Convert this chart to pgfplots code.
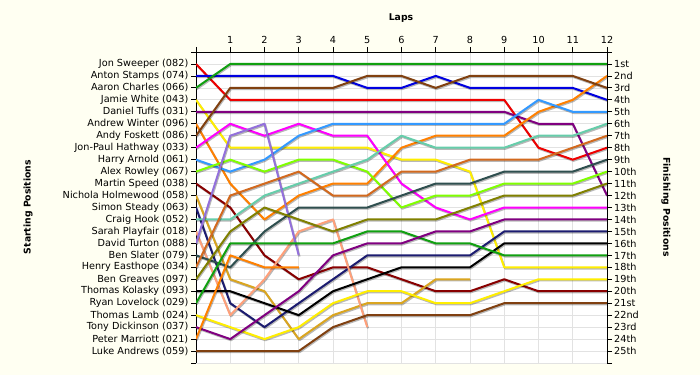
\documentclass[border=0pt]{standalone}
\usepackage{pgfplots}
\pgfplotsset{compat=1.18}
\usepackage{fontspec}
\setmainfont{DejaVu Sans}
\newcommand\lbl{\fontsize{9.7bp}{11bp}\selectfont}
\newcommand\ttl{\fontsize{9.3bp}{11bp}\selectfont}
\definecolor{bgc}{HTML}{FFFFF2}
\definecolor{gridc}{HTML}{E2E2E2}
\definecolor{cRed}{HTML}{EE0000}
\definecolor{cBlue}{HTML}{0000E0}
\definecolor{cGreen}{HTML}{10A010}
\definecolor{cYellow}{HTML}{FFEE00}
\definecolor{cPurple}{HTML}{800080}
\definecolor{cOrange}{HTML}{FF8000}
\definecolor{cBrown}{HTML}{804010}
\definecolor{cMagenta}{HTML}{FF00FF}
\definecolor{cDodger}{HTML}{3399FF}
\definecolor{cLime}{HTML}{80FF00}
\definecolor{cMaroon}{HTML}{880000}
\definecolor{cGold}{HTML}{DAA520}
\definecolor{cNavy}{HTML}{1C1C70}
\definecolor{cAqua}{HTML}{66CDAA}
\definecolor{cSalmon}{HTML}{FFA07A}
\definecolor{cMedPurple}{HTML}{9370DB}
\definecolor{cSlate}{HTML}{2F4F4F}
\definecolor{cChoc}{HTML}{D2691E}
\definecolor{cOlive}{HTML}{808000}
\newcommand{\racer}[2]{%
  \addplot[black, opacity=0.28, line width=2bp, xshift=0.8bp, yshift=-1.2bp] coordinates {#2};
  \addplot[#1, line width=2bp] coordinates {#2};}
\begin{document}
\begin{tikzpicture}
\fill[bgc] (0,0) rectangle (700bp,375bp);
\useasboundingbox (0,0) rectangle (700bp,375bp);
\begin{axis}[
  at={(196bp,12bp)}, anchor=south west,
  scale only axis, width=411bp, height=311bp,
  xmin=0, xmax=12, ymin=0, ymax=26, y dir=reverse,
  axis x line*=top, axis y line*=left,
  axis line style={black, line width=0.8bp, -},
  xtick={0,...,12}, xticklabels={,1,2,3,4,5,6,7,8,9,10,11,12},
  ytick={0,...,26},
  yticklabels={,Jon Sweeper (082),Anton Stamps (074),Aaron Charles (066),Jamie White (043),Daniel Tuffs (031),Andrew Winter (096),Andy Foskett (086),Jon-Paul Hathway (033),Harry Arnold (061),Alex Rowley (067),Martin Speed (038),Nichola Holmewood (058),Simon Steady (063),Craig Hook (052),Sarah Playfair (018),David Turton (088),Ben Slater (079),Henry Easthope (034),Ben Greaves (097),Thomas Kolasky (093),Ryan Lovelock (029),Thomas Lamb (024),Tony Dickinson (037),Peter Marriott (021),Luke Andrews (059),},
  tick align=outside, major tick length=5bp,
  tick style={black, line width=0.8bp},
  grid=major, grid style={gridc, line width=0.7bp},
  axis background/.style={fill=white},
  tick label style={font=\lbl},
  yticklabel style={inner xsep=2.5bp},
  /pgf/number format/assume math mode=true,
  line join=round,
]
\racer{cRed}{(0,1)(1,4)(2,4)(3,4)(4,4)(5,4)(6,4)(7,4)(8,4)(9,4)(10,8)(11,9)(12,8)}
\racer{cBlue}{(0,2)(1,2)(2,2)(3,2)(4,2)(5,3)(6,3)(7,2)(8,3)(9,3)(10,3)(11,3)(12,4)}
\racer{cGreen}{(0,3)(1,1)(2,1)(3,1)(4,1)(5,1)(6,1)(7,1)(8,1)(9,1)(10,1)(11,1)(12,1)}
\racer{cYellow}{(0,4)(1,8)(2,8)(3,8)(4,8)(5,8)(6,9)(7,9)(8,10)(9,18)(10,18)(11,18)(12,18)}
\racer{cPurple}{(0,5)(1,5)(2,5)(3,5)(4,5)(5,5)(6,5)(7,5)(8,5)(9,5)(10,6)(11,6)(12,12)}
\racer{cOrange}{(0,6)(1,11)(2,14)(3,12)(4,11)(5,11)(6,8)(7,7)(8,7)(9,7)(10,5)(11,4)(12,2)}
\racer{cBrown}{(0,7)(1,3)(2,3)(3,3)(4,3)(5,2)(6,2)(7,3)(8,2)(9,2)(10,2)(11,2)(12,3)}
\racer{cMagenta}{(0,8)(1,6)(2,7)(3,6)(4,7)(5,7)(6,11)(7,13)(8,14)(9,13)(10,13)(11,13)(12,13)}
\racer{cDodger}{(0,9)(1,10)(2,9)(3,7)(4,6)(5,6)(6,6)(7,6)(8,6)(9,6)(10,4)(11,5)(12,5)}
\racer{cLime}{(0,10)(1,9)(2,10)(3,9)(4,9)(5,10)(6,13)(7,12)(8,12)(9,11)(10,11)(11,11)(12,10)}
\racer{cMaroon}{(0,11)(1,13)(2,17)(3,19)(4,18)(5,18)(6,19)(7,20)(8,20)(9,19)(10,20)(11,20)(12,20)}
\racer{cGold}{(0,12)(1,19)(2,20)(3,24)(4,22)(5,21)(6,21)(7,19)(8,19)}
\racer{cNavy}{(0,13)(1,21)(2,23)(3,21)(4,19)(5,17)(6,17)(7,17)(8,17)(9,15)(10,15)(11,15)(12,15)}
\racer{cAqua}{(0,14)(1,14)(2,12)(3,11)(4,10)(5,9)(6,7)(7,8)(8,8)(9,8)(10,7)(11,7)(12,6)}
\racer{cSalmon}{(0,15)(1,22)(2,19)(3,15)(4,14)(5,23)}
\racer{cMedPurple}{(0,16)(1,7)(2,6)(3,17)}
\racer{cSlate}{(0,17)(1,18)(2,15)(3,13)(4,13)(5,13)(6,12)(7,11)(8,11)(9,10)(10,10)(11,10)(12,9)}
\racer{cChoc}{(0,18)(1,12)(2,11)(3,10)(4,12)(5,12)(6,10)(7,10)(8,9)(9,9)(10,9)(11,8)(12,7)}
\racer{cOlive}{(0,19)(1,15)(2,13)(3,14)(4,15)(5,14)(6,14)(7,14)(8,13)(9,12)(10,12)(11,12)(12,11)}
\racer{black}{(0,20)(1,20)(2,21)(3,22)(4,20)(5,19)(6,18)(7,18)(8,18)(9,16)(10,16)(11,16)(12,16)}
\racer{cGreen}{(0,21)(1,16)(2,16)(3,16)(4,16)(5,15)(6,15)(7,16)(8,16)(9,17)(10,17)(11,17)(12,17)}
\racer{cYellow}{(0,22)(1,23)(2,24)(3,23)(4,21)(5,20)(6,20)(7,21)(8,21)(9,20)(10,19)(11,19)(12,19)}
\racer{cPurple}{(0,23)(1,24)(2,22)(3,20)(4,17)(5,16)(6,16)(7,15)(8,15)(9,14)(10,14)(11,14)(12,14)}
\racer{cOrange}{(0,24)(1,17)(2,18)(3,18)}
\racer{cBrown}{(0,25)(1,25)(2,25)(3,25)(4,23)(5,22)(6,22)(7,22)(8,22)(9,21)(10,21)(11,21)(12,21)}
\end{axis}
\begin{axis}[
  at={(196bp,12bp)}, anchor=south west,
  scale only axis, width=411bp, height=311bp,
  xmin=0, xmax=12, ymin=0, ymax=26, y dir=reverse,
  axis x line=none, axis y line*=right,
  axis line style={black, line width=0.8bp, -},
  ytick={0,...,26},
  yticklabels={,1st,2nd,3rd,4th,5th,6th,7th,8th,9th,10th,11th,12th,13th,14th,15th,16th,17th,18th,19th,20th,21st,22nd,23rd,24th,25th,},
  tick align=outside, major tick length=5bp,
  tick style={black, line width=0.8bp},
  tick label style={font=\lbl},
  yticklabel style={inner xsep=2bp},
]
\end{axis}
\node[font=\ttl\bfseries] at (401bp,357bp) {Laps};
\node[font=\ttl\bfseries, rotate=90] at (28bp,168bp) {Starting Positions};
\node[font=\ttl\bfseries, rotate=-90] at (666bp,168bp) {Finishing Positions};
\end{tikzpicture}
\end{document}
